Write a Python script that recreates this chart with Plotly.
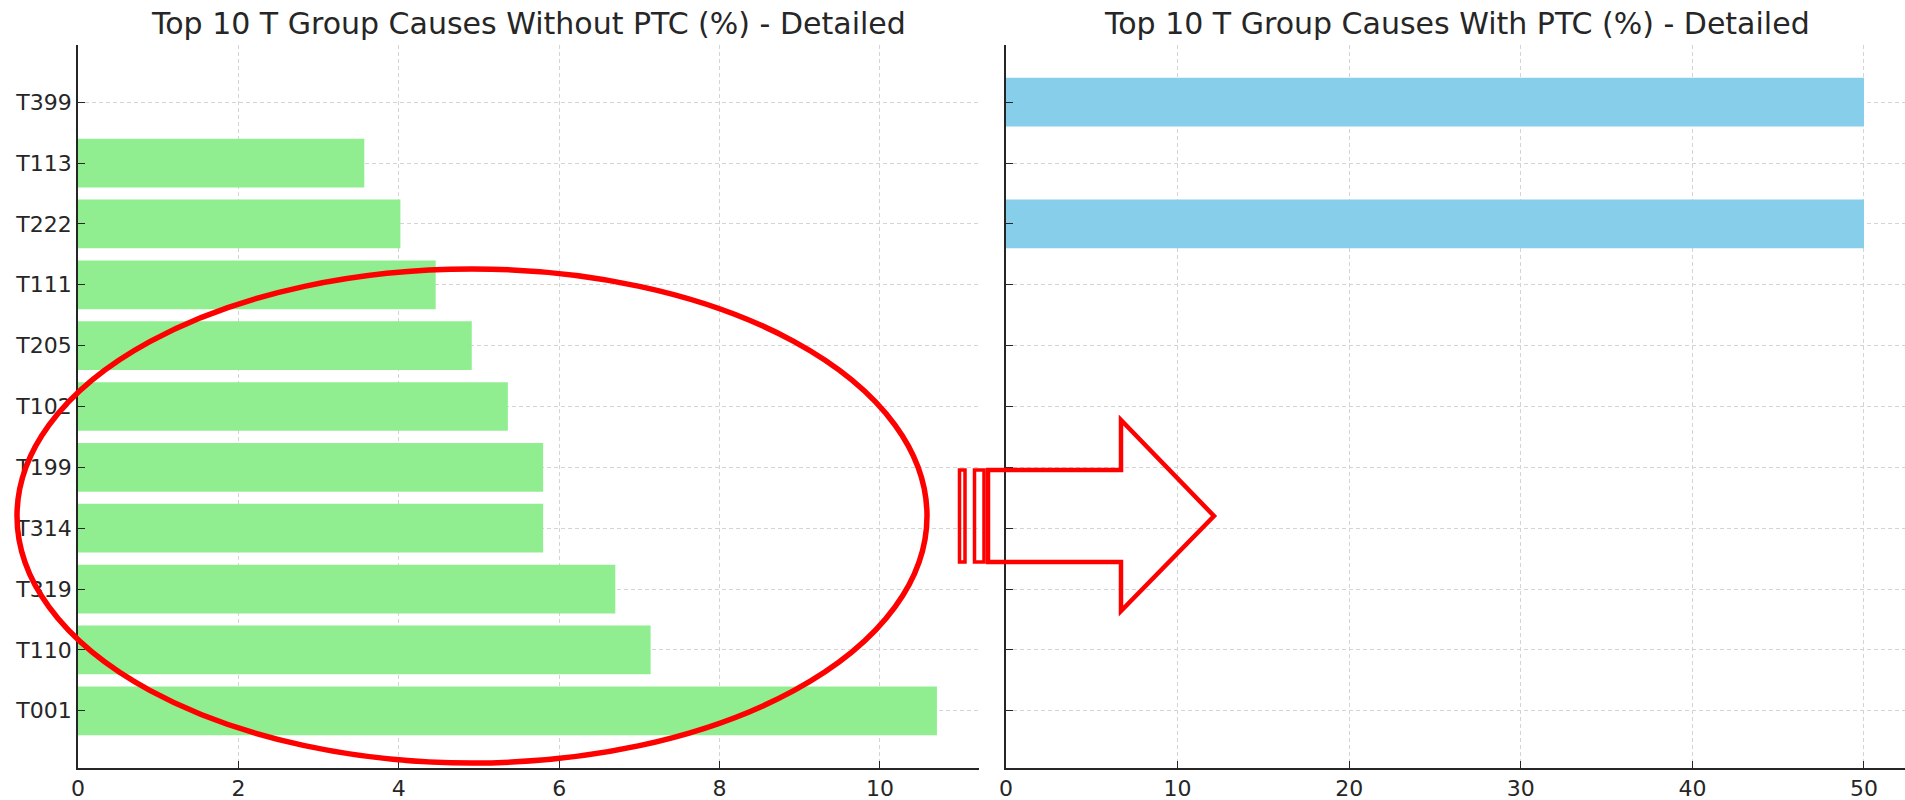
import plotly.graph_objects as go

categories = ["T001", "T110", "T319", "T314", "T199", "T102", "T205", "T111", "T222", "T113", "T399"]
without_ptc = [10.71, 7.14, 6.70, 5.80, 5.80, 5.36, 4.91, 4.46, 4.02, 3.57, 0]
with_ptc = [0, 0, 0, 0, 0, 0, 0, 0, 50, 0, 50]
left_ticks = [0, 2, 4, 6, 8, 10]
right_ticks = [0, 10, 20, 30, 40, 50]

W, H = 1905, 800
ML, MR, MT, MB = 78, 0, 45, 32
PW, PH = W - ML - MR, H - MT - MB


def px(x):
    return (x - ML) / PW


def py(y):
    return 1 - (y - MT) / PH


FONT = "DejaVu Sans"
TXT = "#262626"
GRID = "#d4d4d4"
SPINE = "#262626"

fig = go.Figure()
fig.add_trace(go.Bar(x=without_ptc, y=categories, orientation="h", width=0.8,
                     marker=dict(color="#90EE90", line=dict(width=0)),
                     xaxis="x", yaxis="y", showlegend=False))
fig.add_trace(go.Bar(x=with_ptc, y=categories, orientation="h", width=0.8,
                     marker=dict(color="#87CEEB", line=dict(width=0)),
                     xaxis="x2", yaxis="y2", showlegend=False))

axis_common = dict(showline=True, linecolor=SPINE, linewidth=1.6, ticks="inside",
                   ticklen=7, tickwidth=1.4, tickcolor=SPINE, showgrid=True,
                   gridcolor=GRID, griddash="4px,3px", gridwidth=1, zeroline=False,
                   tickfont=dict(family=FONT, size=22, color=TXT))

y_range = [-0.94, 10.94]
fig.update_layout(
    width=W, height=H,
    margin=dict(l=ML, r=MR, t=MT, b=MB),
    plot_bgcolor="white", paper_bgcolor="white",
    xaxis=dict(domain=[0, px(979)], range=[0, 11.235], tickvals=left_ticks, anchor="y", **axis_common),
    xaxis2=dict(domain=[px(1006), 1.0], range=[0, 52.39], tickvals=right_ticks, anchor="y2", **axis_common),
    yaxis=dict(domain=[0, 1], range=y_range, type="category", categoryorder="array",
               categoryarray=categories, anchor="x", **axis_common),
    yaxis2=dict(domain=[0, 1], range=y_range, type="category", categoryorder="array",
                categoryarray=categories, anchor="x2", matches="y", showticklabels=False,
                **axis_common),
)

fig.add_annotation(text="Top 10 T Group Causes Without PTC (%) - Detailed", xref="paper", yref="paper",
                   x=(px(78) + px(979)) / 2, y=py(23), showarrow=False,
                   font=dict(family=FONT, size=30, color=TXT), xanchor="center", yanchor="middle")
fig.add_annotation(text="Top 10 T Group Causes With PTC (%) - Detailed", xref="paper", yref="paper",
                   x=(px(1006) + px(1907)) / 2, y=py(23), showarrow=False,
                   font=dict(family=FONT, size=30, color=TXT), xanchor="center", yanchor="middle")

RED = "#ff0000"
# ellipse annotation
fig.add_shape(type="circle", xref="paper", yref="paper",
              x0=px(17), x1=px(927), y0=py(269), y1=py(763),
              line=dict(color=RED, width=5.5), layer="above")

# striped arrow annotation
pts = [(988, 470), (1121, 470), (1121, 420), (1214, 516), (1121, 611), (1121, 562), (988, 562)]
path = "M " + " L ".join(f"{px(a):.5f},{py(b):.5f}" for a, b in pts) + " Z"
fig.add_shape(type="path", xref="paper", yref="paper", path=path,
              line=dict(color=RED, width=4.5), layer="above")
for x0, x1 in [(959.5, 965), (974.5, 984)]:
    fig.add_shape(type="rect", xref="paper", yref="paper",
                  x0=px(x0), x1=px(x1), y0=py(470), y1=py(562),
                  line=dict(color=RED, width=3.5), layer="above")

fig.write_html("out.html", config={"displayModeBar": False},
               post_script="document.body.style.margin='0';document.body.style.overflow='hidden';")
